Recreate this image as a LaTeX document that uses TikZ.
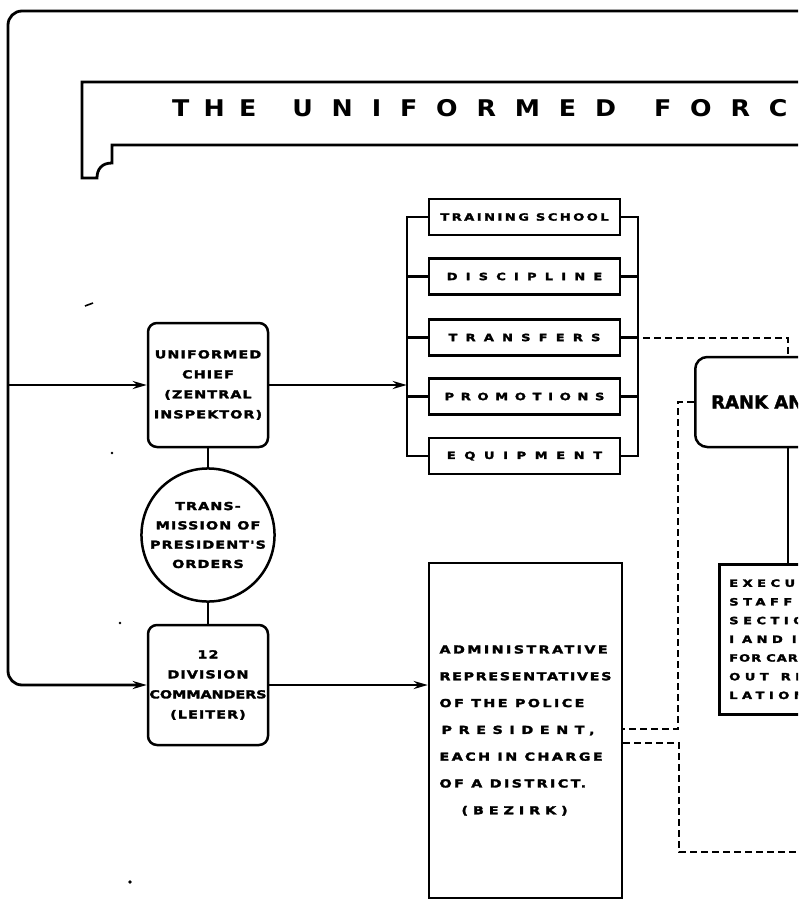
\documentclass[tikz,border=0pt]{standalone}
\usepackage{fontspec}
\usepackage{tikz}
\usetikzlibrary{arrows.meta,calc,positioning}

\newfontfamily\letterfont{DejaVu Sans}[FakeStretch=1.3,LetterSpace=10,BoldFeatures={FakeBold=2.5}]
\newfontfamily\titlefont{DejaVu Sans}[FakeStretch=1.1,LetterSpace=75]
\newfontfamily\rankfont{DejaVu Sans}[BoldFeatures={FakeBold=2}]
\newcommand{\wide}[2][82]{{\addfontfeature{LetterSpace=#1}#2}}

\tikzset{
  arr/.style={-{Stealth[length=14pt,width=8pt]}},
  dashln/.style={line width=2pt,dash pattern=on 7pt off 4pt},
  office/.style={draw,line width=2.5pt,rounded corners=9pt,minimum width=120pt,minimum height=124pt,
    inner sep=0pt,align=center,font={\letterfont\bfseries\fontsize{11}{20}\selectfont}},
  hub/.style={draw,circle,line width=2.5pt,minimum size=133pt,inner sep=0pt,align=center,
    font={\letterfont\bfseries\fontsize{11}{19.3}\selectfont}},
  item/.style={draw,line width=2.5pt,minimum width=191pt,minimum height=36pt,inner sep=0pt,
    font={\letterfont\bfseries\fontsize{10}{12}\selectfont}}
}

\begin{document}
\begin{tikzpicture}[x=1pt,y=-1pt,line width=2.2pt]
  \useasboundingbox (0,0) rectangle (798,901);
  \clip (0,0) rectangle (798,901);

  % heading
  \draw[line width=2.8pt] (815,82) -- (82,82) -- (82,178) -- (97,178)
    .. controls (97,169) and (102,163) .. (112,163) -- (112,145) -- (815,145);
  \node[anchor=base west,inner sep=0pt,font={\titlefont\bfseries\fontsize{23}{23}\selectfont}]
    (title) at (171,117)
    {\wide[62]{THE}\hspace*{36pt}\wide[82]{UNIFORMED}\hspace*{38pt}\wide[82]{FORCE}};

  % left column
  \node[office] (chief) at (208,385) {UNIFORMED\\CHIEF\\(ZENTRAL\\INSPEKTOR)};
  \node[hub] (orders) at (208,535) {TRANS-\\MISSION OF\\PRESIDENT'S\\ORDERS};
  \node[office,minimum height=120pt] (div) at (208,685)
    {12\\DIVISION\\\wide[0]{COMMANDERS}\\(LEITER)};
  \draw (chief.south) -- (orders.north);
  \draw (orders.south) -- (div.north);

  % outer frame
  \coordinate (fcorner) at (8,11);
  \coordinate (ftop) at (815,11);
  \draw[arr,line width=2.8pt,rounded corners=14pt] (ftop) -- (fcorner) |- (div.west);
  \draw[arr] (fcorner |- chief.west) -- (chief.west);

  % staff services
  \node[item] (train) at (524.5,217) {\wide[25]{TRAINING SCHOOL}};
  \node[item] (disc) at (524.5,276.5) {\wide{DISCIPLINE}};
  \node[item] (trans) at (524.5,337.5) {\wide{TRANSFERS}};
  \node[item] (promo) at (524.5,396.5) {\wide[67]{PROMOTIONS}};
  \node[item] (equip) at (524.5,456) {\wide[86]{EQUIPMENT}};
  \draw (train.west) -- ++(-21,0) coordinate (lspine) |- (equip.west);
  \draw (train.east) -- ++(17,0) |- (equip.east);
  \foreach \n in {disc,trans,promo} {
    \draw (\n.west) -- ++(-21,0);
    \draw (\n.east) -- ++(17,0);
  }
  \draw[arr] (chief.east) -- (chief.east -| lspine);

  % districts
  \node[draw,line width=2.5pt,minimum width=193pt,minimum height=335pt,inner sep=0pt,align=left,
    font={\letterfont\bfseries\fontsize{11}{26.8}\selectfont\addfontfeature{LetterSpace=22}}]
    (admin) at (525.5,730.5)
    {ADMINISTRATIVE\\\wide[15]{REPRESENTATIVES}\\OF THE POLICE\\
     \hspace*{2pt}\wide[60]{PRESIDENT,}\\EACH IN CHARGE\\OF A DISTRICT.\\
     \hspace*{22pt}\wide[45]{(BEZIRK)}};
  \draw[arr] (div.east) -- (div.east -| admin.west);

  % right part
  \node[draw,line width=2.5pt,rounded corners=12pt,anchor=west,minimum height=90pt,
    inner xsep=16pt,align=left,font={\rankfont\bfseries\fontsize{18}{20}\selectfont}]
    (rank) at (694,402) {RANK AND\hspace*{40pt}};
  \node[draw,line width=2.5pt,anchor=north west,minimum height=150pt,inner xsep=10pt,
    align=left,font={\letterfont\bfseries\fontsize{10}{18.7}\selectfont}] (exec) at (718,563)
    {\wide[45]{EXECUTIVE}\\\wide[45]{STAFF}\\\wide[45]{SECTIONS}\\
     \wide[45]{I\hspace*{8pt}AND II}\\FOR\hspace*{5pt}CARRYING\\\wide[45]{OUT\hspace*{12pt}REGU-}\\
     \wide[45]{LATIONS}};

  \coordinate (tdrop) at (788,338);
  \coordinate (dend) at (815,852);
  \draw[dashln] (trans.east) -- (trans.east -| tdrop) -- (tdrop |- rank.north);
  \draw (tdrop |- rank.south) -- (tdrop |- exec.north);
  \draw[dashln] (rank.west) -- ++(-16,0) |- ([yshift=2pt]admin.east);
  \draw[dashln] ([yshift=-12.5pt]admin.east) -- ++(56,0) |- (dend);

  % specks
  \draw[line width=1.6pt] (85,306) -- (93,303);
  \fill (112,453) circle (1.4pt);
  \fill (120,623) circle (1.4pt);
  \fill (130,882) circle (1.8pt);
\end{tikzpicture}
\end{document}
